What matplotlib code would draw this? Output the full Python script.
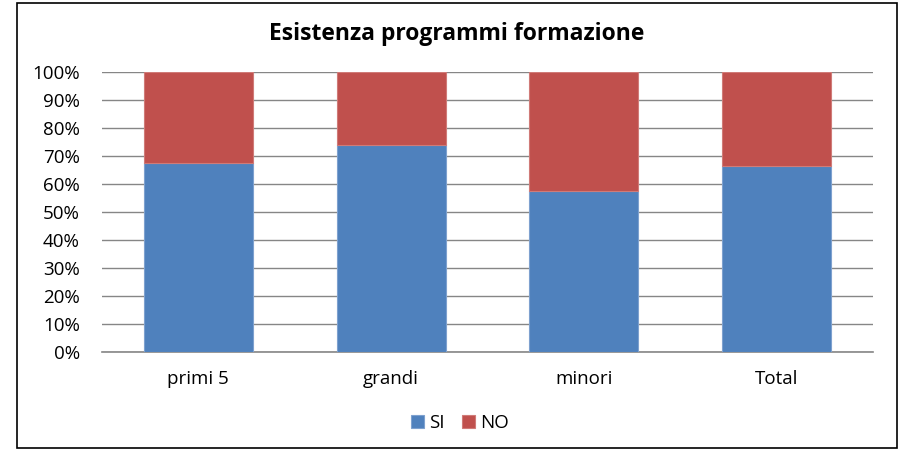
import matplotlib.pyplot as plt
from matplotlib.patches import Rectangle
from matplotlib.ticker import PercentFormatter

categories = ["primi 5", "grandi", "minori", "Total"]
si = [67.4, 73.8, 57.5, 66.3]
no = [100 - v for v in si]

plt.rcParams['font.family'] = ['Open Sans', 'DejaVu Sans']

fig = plt.figure(figsize=(9, 4.51), dpi=100)
ax = fig.add_axes([0.1133, 0.2195, 0.8567, 0.6205])

x = range(len(categories))
ax.bar(x, si, width=0.566, color='#4F81BD', edgecolor='#7EA1CF', linewidth=0.8, label='SI', zorder=3)
ax.bar(x, no, width=0.566, bottom=si, color='#C0504D', edgecolor='#D07B78', linewidth=0.8, label='NO', zorder=3)

ax.set_xlim(-0.5, 3.5)
ax.set_ylim(0, 100)
ax.set_yticks(range(0, 101, 10))
ax.yaxis.set_major_formatter(PercentFormatter(decimals=0))
ax.set_xticks(list(x))
ax.set_xticklabels(categories)
ax.tick_params(axis='both', length=0, labelsize=13.5, colors='black')
ax.tick_params(axis='x', pad=13)
ax.tick_params(axis='y', pad=16)
ax.grid(axis='y', color='#868686', linewidth=1, zorder=0)
for s in ['top', 'right', 'left']:
    ax.spines[s].set_visible(False)
ax.spines['bottom'].set_color('#868686')
ax.spines['bottom'].set_linewidth(1.2)

fig.text(0.507, 0.925, "Esistenza programmi formazione", ha='center', va='center',
         fontsize=16.5, fontweight='bold')

fig.legend(loc='center', bbox_to_anchor=(0.511, 0.062), ncol=2, frameon=False,
           fontsize=13.5, handlelength=0.7, handleheight=0.7, handletextpad=0.3,
           columnspacing=0.9)

fig.patches.append(Rectangle((17 / 900, 3 / 451), 880 / 900, 445 / 451,
                             transform=fig.transFigure, fill=False,
                             edgecolor='black', linewidth=1.2))

fig.savefig('out.png', dpi=100)
